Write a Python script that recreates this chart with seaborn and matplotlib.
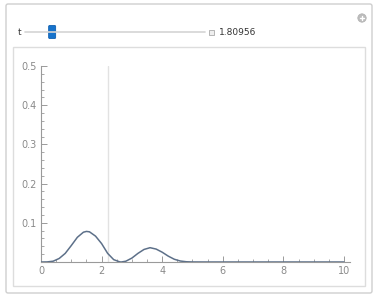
import numpy as np
import pandas as pd
import matplotlib
matplotlib.use("Agg")
import matplotlib.pyplot as plt
from matplotlib.patches import FancyBboxPatch, Rectangle, Circle
import seaborn as sns

# curve samples
x_vals = [0.0, 0.2, 0.4, 0.6, 0.8, 1.0, 1.2, 1.4, 1.5, 1.6, 1.8, 2.0, 2.2, 2.4,
          2.6, 2.65, 2.8, 3.0, 3.2, 3.4, 3.6, 3.8, 4.0, 4.2, 4.4, 4.6, 4.8,
          5.0, 5.5, 6.0, 7.0, 8.0, 9.0, 10.0]
y_vals = [0.0, 0.0002, 0.002, 0.009, 0.022, 0.042, 0.063, 0.076, 0.078, 0.077,
          0.066, 0.047, 0.022, 0.006, 0.0003, 0.0, 0.002, 0.010, 0.022, 0.032,
          0.0365, 0.033, 0.025, 0.015, 0.007, 0.0025, 0.0006, 0.0001, 0.0,
          0.0, 0.0, 0.0, 0.0, 0.0]
marker_x = 2.21
t_value = 1.80956
t_min, t_max = 0.0, 12.0
x_ticks = [0, 2, 4, 6, 8, 10]
y_ticks = [0.1, 0.2, 0.3, 0.4, 0.5]

df = pd.DataFrame({"x": x_vals, "y": y_vals})

sns.set_style("white")
W, H = 378, 298
fig = plt.figure(figsize=(W / 100, H / 100), dpi=100)
fig.patch.set_facecolor("white")

# panel chrome in pixel coordinates
bg = fig.add_axes([0, 0, 1, 1], zorder=0)
bg.set_xlim(0, W)
bg.set_ylim(H, 0)
bg.axis("off")
bg.add_patch(FancyBboxPatch((6, 4), 366, 289, boxstyle="round,pad=0,rounding_size=2",
                            facecolor="white", edgecolor="#cfcfcf", lw=1.0))
bg.add_patch(Rectangle((13, 47), 352, 239, facecolor="white",
                       edgecolor="#dddddd", lw=1.0))

# slider row
bg.text(18, 32.5, "t", fontsize=6.5, color="#333333", va="center", ha="left")
track_x0, track_x1 = 25, 205
bg.plot([track_x0, track_x1], [32, 32], color="#d4d4d4", lw=1.2,
        solid_capstyle="round")
frac = (t_value - t_min) / (t_max - t_min)
thumb_c = track_x0 + frac * (track_x1 - track_x0)
bg.add_patch(FancyBboxPatch((thumb_c - 3.5, 25.5), 7, 13,
                            boxstyle="round,pad=0,rounding_size=1",
                            facecolor="#1673cc", edgecolor="#1060b0", lw=0.6))
bg.add_patch(Rectangle((209, 29.5), 5, 5, facecolor="#eeeeee",
                       edgecolor="#aaaaaa", lw=0.6))
bg.text(219, 32.5, f"{t_value:.5f}", fontsize=6.5, color="#333333",
        va="center", ha="left")

# add-control button
bg.add_patch(Circle((362, 18), 4.2, facecolor="#bdbdbd", edgecolor="#b0b0b0", lw=0.5))
bg.plot([359.8, 364.2], [18, 18], color="white", lw=1.0)
bg.plot([362, 362], [15.8, 20.2], color="white", lw=1.0)

# plot area
x_left, x_right = 41, 350
y_bot, y_top = 262, 66
ax = fig.add_axes([x_left / W, (H - y_bot) / H, (x_right - x_left) / W,
                   (y_bot - y_top) / H], zorder=1)
ax.patch.set_alpha(0)

ax.plot([marker_x, marker_x], [0, 0.5], color="#e2e2e2", lw=1.0, zorder=1)
sns.lineplot(data=df, x="x", y="y", ax=ax, color="#5d7089", lw=1.1, zorder=3)

ax.set_xlim(0, 10.2)
ax.set_ylim(0, 0.5)
ax.set_xlabel("")
ax.set_ylabel("")
for side in ["top", "right"]:
    ax.spines[side].set_visible(False)
for side in ["left", "bottom"]:
    ax.spines[side].set_color("#9a9a9a")
    ax.spines[side].set_linewidth(0.8)

ax.set_xticks(x_ticks)
ax.set_xticklabels([str(v) for v in x_ticks])
ax.set_xticks(np.arange(0, 10.01, 0.5), minor=True)
ax.set_yticks(y_ticks)
ax.set_yticklabels([f"{v:.1f}" for v in y_ticks])
ax.set_yticks(np.arange(0, 0.501, 0.02), minor=True)
ax.tick_params(axis="both", which="both", bottom=True, left=True,
               top=False, right=False)
ax.tick_params(axis="both", which="major", direction="in", length=4, width=0.7,
               color="#9a9a9a", labelsize=7, labelcolor="#8a8a8a", pad=3)
ax.tick_params(axis="both", which="minor", direction="in", length=2, width=0.6,
               color="#9a9a9a")

fig.savefig("out.png", dpi=100)
